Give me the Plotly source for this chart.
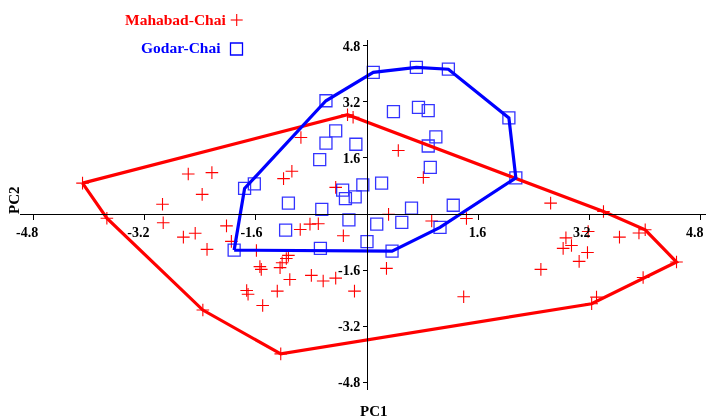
import plotly.graph_objects as go

# ---------------- data (PC scores) ----------------
mahabad_pc1 = [-4.09, -3.74, -2.94, -2.93, -2.57, -2.23, -2.37, -2.64, -2.47, -2.30,
               -2.02, -1.95, -2.36, -1.24, -1.59, -1.54, -1.52, -1.73, -1.71, -1.50,
               -1.29, -1.25, -1.22, -1.16, -1.13, -1.11, -0.96, -0.82, -0.70, -0.80,
               -0.63, -0.45, -0.34, -0.18, -1.20, -1.08, -0.45, -0.95, -0.28, -0.20,
               0.45, 0.81, 0.31, 0.93, 1.43, 0.28, 1.39, 2.64, 3.40, 2.86,
               2.94, 2.82, 3.18, 3.17, 3.05, 3.63, 3.91, 4.00, 4.45, 3.97,
               2.50, 3.30, 3.23]
mahabad_pc2 = [0.88, -0.12, 0.28, -0.25, 1.14, 1.18, 0.56, -0.66, -0.55, -1.01,
               -0.34, -0.78, -2.74, -3.99, -1.04, -1.50, -1.58, -2.18, -2.29, -2.61,
               -2.20, -1.53, -1.39, -1.27, -1.18, -1.87, -0.44, -0.29, -0.28, -1.75,
               -1.91, -1.83, -0.62, -2.20, 1.01, 1.22, 0.76, 2.18, 2.83, 2.76,
               1.81, 1.04, -0.01, -0.20, -0.13, -1.55, -2.36, 0.31, 0.07, -0.68,
               -0.90, -0.98, -0.50, -1.10, -1.35, -0.66, -0.54, -0.45, -1.37, -1.81,
               -1.58, -2.37, -2.56]

godar_pc1 = [0.09, 0.71, 1.17, 2.04, 2.14, 1.05, 0.36, -0.67, -1.91, -1.76,
             -1.62, -0.59, 0.38, 0.74, 0.88, 0.99, 0.88, 0.91, -0.45, -0.59,
             -0.16, -0.68, -0.06, 0.21, -0.35, -0.31, -0.17, -1.13, -0.65, 0.64,
             1.24, -0.26, 0.14, 0.50, -1.17, 0.00]
godar_pc2 = [4.04, 4.18, 4.13, 2.74, 1.03, -0.38, -1.06, -0.98, -1.03, 0.73,
             0.86, 3.23, 2.92, 3.04, 2.95, 2.20, 1.94, 1.33, 2.37, 2.02,
             1.99, 1.55, 0.83, 0.88, 0.68, 0.44, 0.49, 0.31, 0.13, 0.17,
             0.25, -0.17, -0.29, -0.24, -0.46, -0.79]

tick_vals = [-4.8, -3.2, -1.6, 1.6, 3.2, 4.8]
tick_text = ["-4.8", "-3.2", "-1.6", "1.6", "3.2", "4.8"]
group_names = ["Mahabad-Chai", "Godar-Chai"]
x_title = "PC1"
y_title = "PC2"

RED = "#ff0000"
BLUE = "#0000ff"
FONT = "Liberation Serif"


def convex_hull(xs, ys):
    pts = sorted(set(zip(xs, ys)))

    def cross(o, a, b):
        return (a[0] - o[0]) * (b[1] - o[1]) - (a[1] - o[1]) * (b[0] - o[0])

    lower, upper = [], []
    for p in pts:
        while len(lower) >= 2 and cross(lower[-2], lower[-1], p) <= 0:
            lower.pop()
        lower.append(p)
    for p in reversed(pts):
        while len(upper) >= 2 and cross(upper[-2], upper[-1], p) <= 0:
            upper.pop()
        upper.append(p)
    hull = lower[:-1] + upper[:-1]
    hull.append(hull[0])
    return [p[0] for p in hull], [p[1] for p in hull]


fig = go.Figure()

fig.add_trace(go.Scatter(
    x=mahabad_pc1, y=mahabad_pc2, mode="markers", name=group_names[0],
    marker=dict(symbol="cross-thin", size=9, line=dict(color=RED, width=1.1), color=RED),
))
fig.add_trace(go.Scatter(
    x=godar_pc1, y=godar_pc2, mode="markers", name=group_names[1],
    marker=dict(symbol="square-open", size=12, color=BLUE, line=dict(color=BLUE, width=1.3)),
    opacity=0.8,
))

hx, hy = convex_hull(mahabad_pc1, mahabad_pc2)
fig.add_trace(go.Scatter(x=hx, y=hy, mode="lines", line=dict(color=RED, width=3.2),
                         hoverinfo="skip"))
hx, hy = convex_hull(godar_pc1, godar_pc2)
fig.add_trace(go.Scatter(x=hx, y=hy, mode="lines", line=dict(color=BLUE, width=3.2),
                         hoverinfo="skip"))

# ---------------- layout ----------------
W, H = 706, 419
ML, MR, MT, MB = 20, 0, 40, 29
xr = [-4.989, 4.874]
yr = [-5.02, 4.963]
pw, ph = W - ML - MR, H - MT - MB
x_pos = (0 - yr[0]) / (yr[1] - yr[0])   # where y=0 sits
y_pos = (0 - xr[0]) / (xr[1] - xr[0])   # where x=0 sits


def px2paper(px, py):
    return (px - ML) / pw, (H - MB - py) / ph


# x tick labels in the reference sit slightly left of their ticks (by varying amounts);
# all labels are shifted left, then nudged back with non-breaking spaces.
NB = "\u00a0"
x_pad = {"-4.8": ("", ""), "-3.2": ("", ""), "-1.6": (NB, ""),
         "1.6": (NB * 3, ""), "3.2": ("", NB), "4.8": ("", "")}
x_tick_text = [x_pad[t][0] + t + x_pad[t][1] for t in tick_text]

tick_font = dict(family=FONT, size=14, color="black", weight="bold")

fig.update_layout(
    width=W, height=H,
    margin=dict(l=ML, r=MR, t=MT, b=MB, pad=0),
    plot_bgcolor="white", paper_bgcolor="white",
    showlegend=False,
    xaxis=dict(range=xr, anchor="free", position=x_pos, showgrid=False, zeroline=False,
               showline=True, linecolor="black", linewidth=1,
               ticks="outside", ticklen=5, tickwidth=1, tickcolor="black",
               tickvals=tick_vals, ticktext=x_tick_text, tickfont=tick_font,
               ticklabelshift=-6, fixedrange=True),
    yaxis=dict(range=yr, anchor="free", position=y_pos, showgrid=False, zeroline=False,
               showline=True, linecolor="black", linewidth=1,
               ticks="outside", ticklen=4, tickwidth=1, tickcolor="black",
               tickvals=tick_vals, ticktext=tick_text, tickfont=tick_font,
               fixedrange=True),
)

ann = []
ax, ay = px2paper(374, 411)
ann.append(dict(x=ax, y=ay, xref="paper", yref="paper", text=x_title, showarrow=False,
                font=dict(family=FONT, size=15, color="black", weight="bold"),
                xanchor="center", yanchor="middle"))
ax, ay = px2paper(14, 200)
ann.append(dict(x=ax, y=ay, xref="paper", yref="paper", text=y_title, showarrow=False,
                textangle=-90,
                font=dict(family=FONT, size=15, color="black", weight="bold"),
                xanchor="center", yanchor="middle"))
ax, ay = px2paper(228, 19.5)
ann.append(dict(x=ax, y=ay, xref="paper", yref="paper", text=group_names[0], showarrow=False,
                font=dict(family=FONT, size=15.5, color=RED, weight="bold"),
                xanchor="right", yanchor="middle"))
ax, ay = px2paper(223, 47.5)
ann.append(dict(x=ax, y=ay, xref="paper", yref="paper", text=group_names[1], showarrow=False,
                font=dict(family=FONT, size=15.5, color=BLUE, weight="bold"),
                xanchor="right", yanchor="middle"))
fig.update_layout(annotations=ann)

# legend symbols (drawn to the right of the labels)
shapes = []
cx, cy = 236.7, 20
for (x0, y0, x1, y1) in [(cx - 6, cy, cx + 6, cy), (cx, cy - 6, cx, cy + 6)]:
    a0, b0 = px2paper(x0, y0)
    a1, b1 = px2paper(x1, y1)
    shapes.append(dict(type="line", xref="paper", yref="paper", x0=a0, y0=b0, x1=a1, y1=b1,
                       line=dict(color=RED, width=1.1)))
sx, sy = 236.5, 49
a0, b0 = px2paper(sx - 6, sy + 6)
a1, b1 = px2paper(sx + 6, sy - 6)
shapes.append(dict(type="rect", xref="paper", yref="paper", x0=a0, y0=b0, x1=a1, y1=b1,
                   line=dict(color=BLUE, width=1.3)))
fig.update_layout(shapes=shapes)

fig.write_html("out.html")
